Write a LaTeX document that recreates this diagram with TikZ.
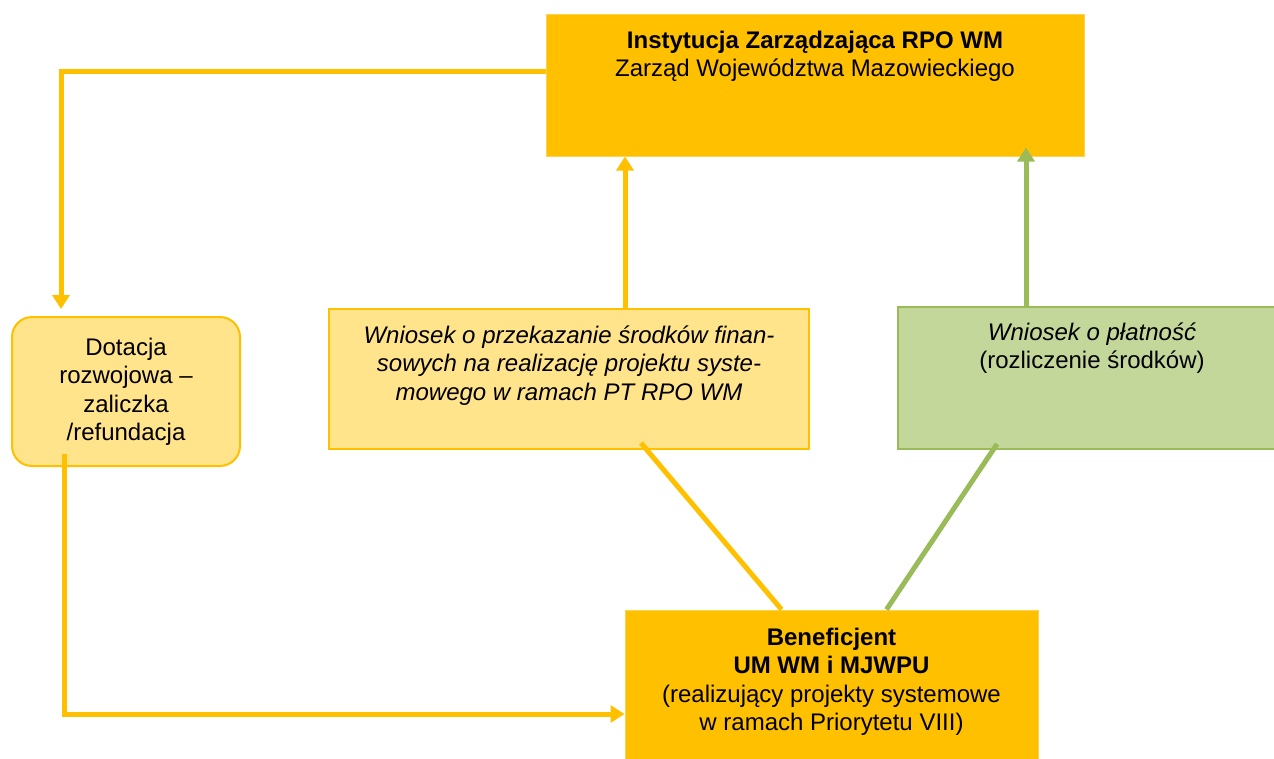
\documentclass[tikz,border=0pt]{standalone}
\usepackage{fontspec}
\setmainfont{Liberation Sans}
\usetikzlibrary{arrows.meta}
\definecolor{ydark}{HTML}{FFC000}
\definecolor{ylight}{HTML}{FFE48C}
\definecolor{yedge}{HTML}{FFD24D}
\definecolor{gfill}{HTML}{C4D79B}
\definecolor{gedge}{HTML}{9BBB59}
\tikzset{
  darkbox/.style={draw=yedge, line width=1pt, fill=ydark, inner sep=0pt},
  lightbox/.style={draw=ydark, line width=2pt, fill=ylight, inner sep=0pt},
  greenbox/.style={draw=gedge, line width=2pt, fill=gfill, inner sep=0pt},
  lbl/.style={anchor=north, align=center, inner sep=0pt, font=\fontsize{24}{28.5}\selectfont},
  yline/.style={draw=ydark, line width=5pt},
  gline/.style={draw=gedge, line width=5pt},
  tip/.style={-{Triangle[width=17pt,length=14pt]}},
}
\begin{document}
\begin{tikzpicture}[x=1pt,y=-1pt]
\useasboundingbox (0,0) rectangle (1274,758);
% boxes
\node[darkbox, minimum width=538pt, minimum height=142pt] (iz) at (815,85) {};
\node[lightbox, rounded corners=20pt, minimum width=228pt, minimum height=149pt] (dot) at (126,391.5) {};
\node[lightbox, minimum width=480pt, minimum height=140pt] (wn) at (569,379) {};
\node[greenbox, minimum width=378pt, minimum height=142pt] (gr) at (1087,378) {};
\node[darkbox, minimum width=413pt, minimum height=150pt] (ben) at (831.5,685) {};
% labels
\node[lbl] (izt) at (815,30.5) {\textbf{Instytucja Zarządzająca RPO WM}\\Zarząd Województwa Mazowieckiego};
\node[lbl] (dott) at (126,337.5) {Dotacja\\rozwojowa –\\zaliczka\\/refundacja};
\node[lbl] (wnt) at (569,325.5) {\textit{Wniosek o przekazanie środków finan-}\\\textit{sowych na realizację projektu syste-}\\\textit{mowego w ramach PT RPO WM}};
\node[lbl] (grt) at (1092,322.5) {\textit{Wniosek o płatność}\\(rozliczenie środków)};
\node[lbl] (bent) at (831.5,627.5) {\textbf{Beneficjent}\\\textbf{UM WM i MJWPU}\\(realizujący projekty systemowe\\w ramach Priorytetu VIII)};
% connectors
\coordinate (c1) at (61,71);
\coordinate (a1) at (61,309);
\draw[yline, tip] ([yshift=14pt]iz.west) -- (c1) -- (a1);
\draw[yline, tip] ([xshift=-62pt,yshift=13pt]dot.south) |- ([yshift=-29pt]ben.west);
\draw[yline, tip] ([xshift=56pt]wn.north) -- ([xshift=56pt]wn.north |- iz.south);
\draw[gline, tip] ([xshift=-61pt]gr.north) -- ([xshift=-61pt,yshift=9pt]gr.north |- iz.south);
\draw[yline] ([xshift=72pt,yshift=7pt]wn.south) -- ([xshift=-50pt]ben.north);
\draw[gline] ([xshift=-90pt,yshift=6pt]gr.south) -- ([xshift=55pt]ben.north);
\end{tikzpicture}
\end{document}
